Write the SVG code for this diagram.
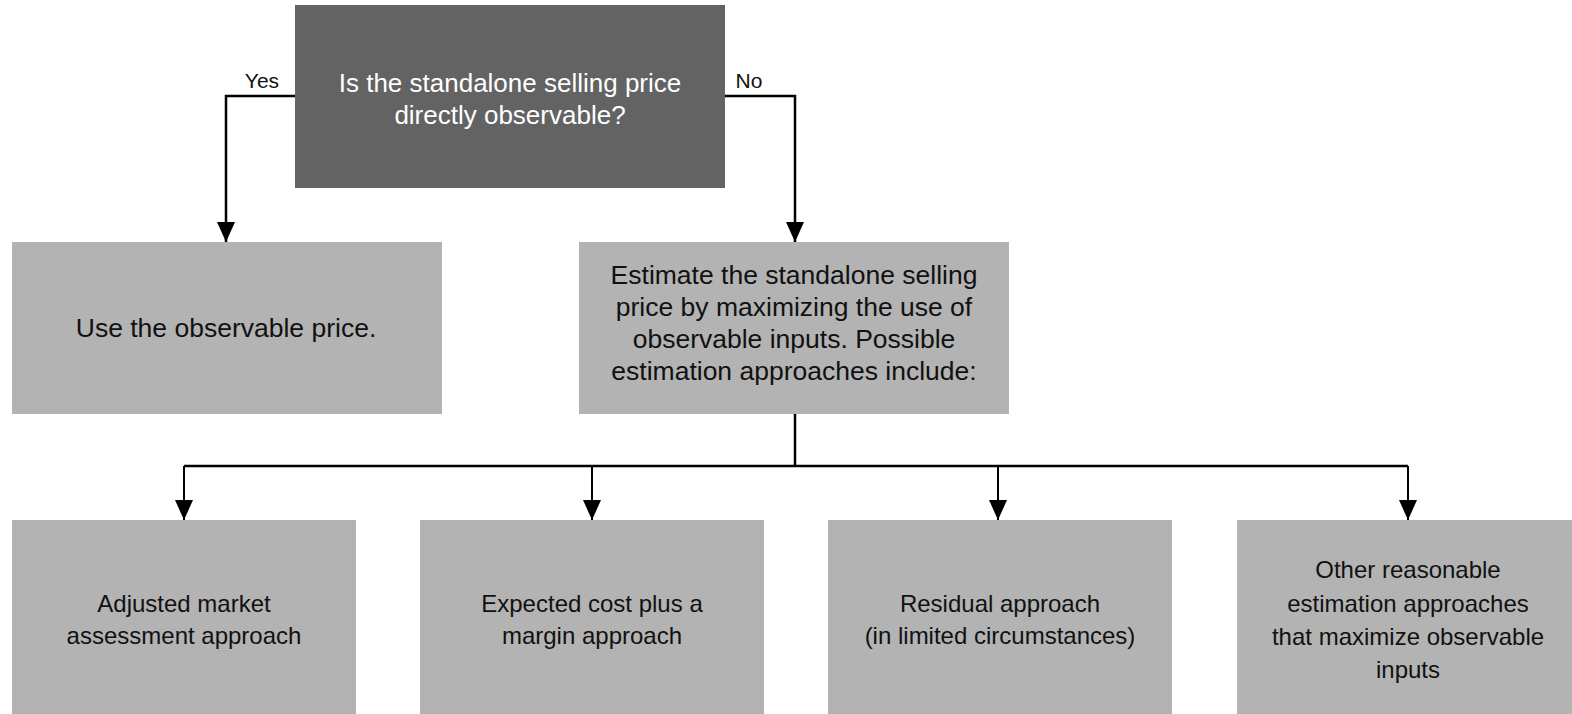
<svg xmlns="http://www.w3.org/2000/svg" width="1572" height="714" viewBox="0 0 1572 714">
<style>
.box{fill:#b3b3b3;}
.dark{fill:#636363;}
.t{font-family:"Liberation Sans",Arial,sans-serif;font-size:24px;fill:#111;text-anchor:middle;}
.tl{font-family:"Liberation Sans",Arial,sans-serif;font-size:26.5px;fill:#111;text-anchor:middle;}
.tw{font-family:"Liberation Sans",Arial,sans-serif;font-size:26px;fill:#ffffff;text-anchor:middle;}
.lbl{font-family:"Liberation Sans",Arial,sans-serif;font-size:21px;fill:#111;text-anchor:middle;}
.c{fill:none;stroke:#000;stroke-width:2.5;}
.c2{fill:none;stroke:#000;stroke-width:2;}
</style>
<defs>
<marker id="ah" markerUnits="userSpaceOnUse" markerWidth="22" markerHeight="18" refX="20" refY="9" orient="auto" viewBox="0 0 22 18">
<path d="M0,0 L20,9 L0,18 Z" fill="#000"/>
</marker>
</defs>
<rect width="1572" height="714" fill="#ffffff"/>
<g id="connectors">
<path class="c" d="M295,96 H226 V242" marker-end="url(#ah)"/>
<path class="c" d="M725,96 H795 V242" marker-end="url(#ah)"/>
<path class="c" d="M795,414 V466"/>
<path class="c" d="M184,466 H1408"/>
<path class="c2" d="M184,466 V520" marker-end="url(#ah)"/>
<path class="c2" d="M592,466 V520" marker-end="url(#ah)"/>
<path class="c2" d="M998,466 V520" marker-end="url(#ah)"/>
<path class="c2" d="M1408,466 V520" marker-end="url(#ah)"/>
<text class="lbl" x="262" y="88">Yes</text>
<text class="lbl" x="749" y="88">No</text>
</g>
<g id="question">
<rect class="dark" x="295" y="5" width="430" height="183"/>
<text class="tw" x="510" y="92">Is the standalone selling price</text>
<text class="tw" x="510" y="124">directly observable?</text>
</g>
<g id="use-observable">
<rect class="box" x="12" y="242" width="430" height="172"/>
<text class="tl" x="226" y="337">Use the observable price.</text>
</g>
<g id="estimate">
<rect class="box" x="579" y="242" width="430" height="172"/>
<text class="tl" x="794" y="284">Estimate the standalone selling</text>
<text class="tl" x="794" y="316">price by maximizing the use of</text>
<text class="tl" x="794" y="348">observable inputs. Possible</text>
<text class="tl" x="794" y="380">estimation approaches include:</text>
</g>
<g id="adjusted-market">
<rect class="box" x="12" y="520" width="344" height="194"/>
<text class="t" x="184" y="612">Adjusted market</text>
<text class="t" x="184" y="644">assessment approach</text>
</g>
<g id="expected-cost">
<rect class="box" x="420" y="520" width="344" height="194"/>
<text class="t" x="592" y="612">Expected cost plus a</text>
<text class="t" x="592" y="644">margin approach</text>
</g>
<g id="residual">
<rect class="box" x="828" y="520" width="344" height="194"/>
<text class="t" x="1000" y="612">Residual approach</text>
<text class="t" x="1000" y="644">(in limited circumstances)</text>
</g>
<g id="other">
<rect class="box" x="1237" y="520" width="335" height="194"/>
<text class="t" x="1408" y="578">Other reasonable</text>
<text class="t" x="1408" y="612">estimation approaches</text>
<text class="t" x="1408" y="645">that maximize observable</text>
<text class="t" x="1408" y="678">inputs</text>
</g>
</svg>
